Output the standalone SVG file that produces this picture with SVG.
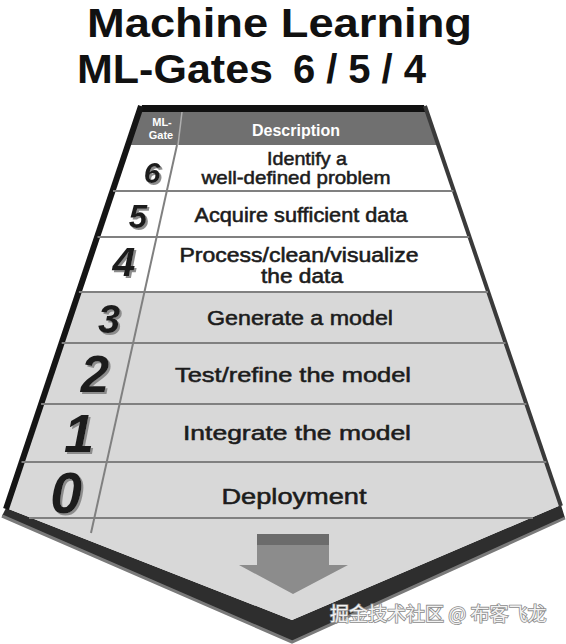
<svg xmlns="http://www.w3.org/2000/svg" width="566" height="644" viewBox="0 0 566 644">
<defs>
<filter id="shadow" x="-20%" y="-20%" width="160%" height="160%">
<feDropShadow dx="2" dy="2" stdDeviation="0.3" flood-color="#8c8c8c" flood-opacity="1"/>
</filter>
</defs>
<style>
.title{font-family:"Liberation Sans",Arial,sans-serif;font-weight:bold;fill:#111}
.desc{font-family:"Liberation Sans",Arial,sans-serif;font-weight:normal;fill:#1c1c1c;stroke:#1c1c1c;stroke-width:0.55;text-anchor:middle}
.num{font-family:"Liberation Sans",Arial,sans-serif;font-weight:bold;font-style:italic;text-anchor:middle;fill:#1c1c1c;filter:url(#shadow)}
.hdr{font-family:"Liberation Sans",Arial,sans-serif;font-weight:bold;fill:#ffffff;text-anchor:middle}
.rule{stroke:#808080;stroke-width:2;fill:none}
.wm{font-family:"Noto Sans CJK SC","Liberation Sans",sans-serif;font-size:19px;fill:#f2f2f2;stroke:#8a8a8a;stroke-width:1.6;paint-order:stroke}
</style>
<rect width="566" height="644" fill="#ffffff"/>

<!-- Title -->
<g id="title">
<text class="title" x="87" y="37" font-size="40" textLength="385" lengthAdjust="spacingAndGlyphs">Machine Learning</text>
<text class="title" y="83" font-size="40"><tspan x="77" textLength="196" lengthAdjust="spacingAndGlyphs">ML-Gates</tspan><tspan x="293" letter-spacing="11">6/5/4</tspan></text>
</g>

<!-- Slab -->
<g id="slab">
<polygon points="6,508 292,620 561,505 565,518 292,642 2,516" fill="#2e2e2e"/>
<polyline points="2,516 292,642 565,518" fill="none" stroke="#7a7a7a" stroke-width="3"/>
<polygon points="141,108 425,108 561,505 292,620 6,508" fill="#d8d8d8"/>
<polygon points="128.5,145 437.7,145 488,292 78.9,292" fill="#ffffff"/>
<polygon points="139.7,112 426.4,112 437.7,145 128.5,145" fill="#707070"/>
<polygon points="142,105 424,105 426.4,112 139.7,112" fill="#111111"/>
<line x1="141" y1="106" x2="6" y2="509" stroke="#151515" stroke-width="6"/>
<line x1="425" y1="106" x2="561" y2="506" stroke="#3a3a3a" stroke-width="4"/>
</g>

<!-- Grid lines -->
<g id="grid">
<line x1="182" y1="112" x2="178" y2="145" stroke="#b0b0b0" stroke-width="1.5"/>
<line class="rule" x1="177" y1="145" x2="91" y2="533"/>
<line class="rule" x1="113" y1="191" x2="453.4" y2="191"/>
<line class="rule" x1="97.5" y1="237" x2="469.2" y2="237"/>
<line class="rule" x1="78.9" y1="292" x2="488" y2="292"/>
<line class="rule" x1="61.7" y1="343" x2="505.5" y2="343"/>
<line class="rule" x1="41.1" y1="404" x2="526.4" y2="404"/>
<line class="rule" x1="21.5" y1="462" x2="546.3" y2="462"/>
<line class="rule" x1="29" y1="518" x2="533" y2="518"/>
</g>

<!-- Header -->
<g id="header">
<text class="hdr" x="162" y="126" font-size="11">ML-</text>
<text class="hdr" x="161" y="139" font-size="11">Gate</text>
<text class="hdr" x="296" y="136" font-size="16">Description</text>
</g>

<g id="gate-6">
<text class="num" x="152" y="183" font-size="30">6</text>
<text class="desc" x="307" y="165" font-size="19" textLength="80" lengthAdjust="spacingAndGlyphs">Identify a</text>
<text class="desc" x="296" y="184" font-size="19" textLength="189" lengthAdjust="spacingAndGlyphs">well-defined problem</text>
</g>

<g id="gate-5">
<text class="num" x="138" y="228" font-size="33">5</text>
<text class="desc" x="301" y="222" font-size="19.5" textLength="213" lengthAdjust="spacingAndGlyphs">Acquire sufficient data</text>
</g>

<g id="gate-4">
<text class="num" x="124" y="276" font-size="41">4</text>
<text class="desc" x="299" y="262" font-size="19.5" textLength="239" lengthAdjust="spacingAndGlyphs">Process/clean/visualize</text>
<text class="desc" x="302" y="283" font-size="19.5" textLength="82" lengthAdjust="spacingAndGlyphs">the data</text>
</g>

<g id="gate-3">
<text class="num" x="109" y="333" font-size="40">3</text>
<text class="desc" x="300" y="325" font-size="21" textLength="186" lengthAdjust="spacingAndGlyphs">Generate a model</text>
</g>

<g id="gate-2">
<text class="num" x="95" y="392" font-size="51">2</text>
<text class="desc" x="293" y="382" font-size="21" textLength="236" lengthAdjust="spacingAndGlyphs">Test/refine the model</text>
</g>

<g id="gate-1">
<text class="num" x="79" y="452" font-size="54">1</text>
<text class="desc" x="297" y="440" font-size="21" textLength="228" lengthAdjust="spacingAndGlyphs">Integrate the model</text>
</g>

<g id="gate-0">
<text class="num" x="66" y="513" font-size="57">0</text>
<text class="desc" x="294" y="504" font-size="22" textLength="145" lengthAdjust="spacingAndGlyphs">Deployment</text>
</g>

<!-- Down arrow -->
<g id="arrow">
<polygon points="257,534 329,534 329,565 348,565 293,594 239,565 257,565" fill="#8c8c8c"/>
<rect x="257" y="534" width="72" height="11" fill="#6c6c6c"/>
</g>

<!-- Watermark -->
<g id="watermark">
<text class="wm" x="330" y="621">掘金技术社区 @ 布客飞龙</text>
</g>
</svg>
